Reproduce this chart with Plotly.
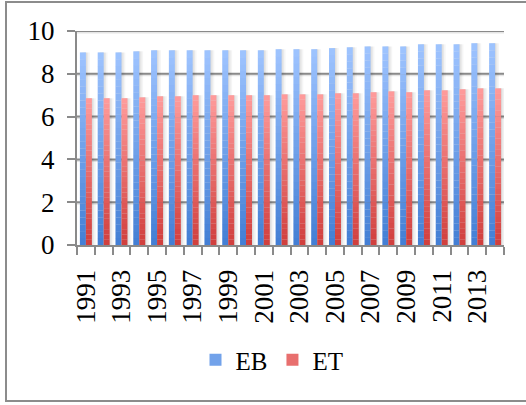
import plotly.graph_objects as go

# Yearly values for the two series
years = ["1991", "1992", "1993", "1994", "1995", "1996", "1997", "1998",
         "1999", "2000", "2001", "2002", "2003", "2004", "2005", "2006",
         "2007", "2008", "2009", "2010", "2011", "2012", "2013", "2014"]
eb = [9.0, 9.0, 9.0, 9.05, 9.1, 9.1, 9.1, 9.1, 9.1, 9.1, 9.1, 9.15,
      9.15, 9.15, 9.2, 9.24, 9.28, 9.28, 9.28, 9.38, 9.38, 9.38, 9.43, 9.43]
et = [6.86, 6.86, 6.86, 6.9, 6.95, 6.95, 7.0, 7.0, 7.0, 7.0, 7.0, 7.04,
      7.04, 7.04, 7.09, 7.09, 7.14, 7.18, 7.14, 7.23, 7.23, 7.28, 7.32, 7.32]
y_ticks = [0, 2, 4, 6, 8, 10]
tick_labels = [y if int(y) % 2 == 1 else "" for y in years]

W, H = 526, 405
L, R, T, B = 77, 504, 31, 245
FONT = "Liberation Serif, Times New Roman, serif"
GRAY = "#8a8a8a"

BAR_W = 0.337
N_SEG = 28

series = [
    ("EB", eb, -BAR_W, (0x42, 0x7E, 0xD4), (0x9F, 0xC4, 0xFF)),
    ("ET", et, 0.0, (0xD0, 0x3E, 0x3C), (0xFF, 0x9C, 0x9C)),
]


def mix(c0, c1, t):
    return "rgb(%d,%d,%d)" % tuple(round(a + (b - a) * t) for a, b in zip(c0, c1))


def px_x(p):
    return (p - L) / (R - L)


def px_y(p):
    return (B - p) / (B - T)


fig = go.Figure()

# soft drop shadow to the right of each bar
for name, vals, off, c_bot, c_top in series:
    for shift, alpha in ((0.05, 0.05), (0.13, 0.05), (0.22, 0.04)):
        fig.add_trace(go.Bar(
            x=years, y=vals, offset=off + shift, width=BAR_W,
            marker=dict(color="rgba(0,0,0,%g)" % alpha, line=dict(width=0)),
            showlegend=False, hoverinfo="skip",
        ))

# bars drawn as vertical gradients: dark at the base, light at the top
for name, vals, off, c_bot, c_top in series:
    for k in range(N_SEG):
        t = (k + 0.5) / N_SEG
        fig.add_trace(go.Bar(
            x=years,
            y=[v / N_SEG * 1.02 if k < N_SEG - 1 else v / N_SEG for v in vals],
            base=[v * k / N_SEG for v in vals],
            offset=off, width=BAR_W,
            marker=dict(color=mix(c_bot, c_top, t), line=dict(width=0)),
            name=name, legendgroup=name,
            showlegend=(k == N_SEG // 2),
            hoverinfo="skip",
        ))

fig.update_layout(
    width=W, height=H,
    margin=dict(l=L, r=W - R, t=T, b=H - B, pad=0),
    paper_bgcolor="white", plot_bgcolor="white",
    barmode="overlay",
    font=dict(family=FONT, size=27, color="black"),
    showlegend=True,
    legend=dict(
        orientation="h", x=(272 - L) / (R - L), xanchor="center",
        y=(B - 360) / (B - T), yanchor="middle",
        font=dict(size=25), itemwidth=30, traceorder="normal",
        bgcolor="rgba(0,0,0,0)",
    ),
    xaxis=dict(
        type="category", tickmode="array", tickvals=years, ticktext=tick_labels,
        tickson="boundaries", ticks="outside", ticklen=8, tickwidth=2,
        tickcolor=GRAY, tickangle=-90, ticklabelstandoff=12,
        showline=True, linecolor=GRAY, linewidth=2,
        showgrid=False, range=[-0.5, len(years) - 0.5],
        tickfont=dict(size=27),
    ),
    yaxis=dict(
        range=[0, 10], tickmode="array", tickvals=y_ticks,
        ticks="outside", ticklen=8, ticklabelstandoff=7,
        tickwidth=2, tickcolor=GRAY,
        showline=True, linecolor=GRAY, linewidth=2,
        showgrid=False, zeroline=False, tickfont=dict(size=27),
    ),
)

# horizontal gridlines at each y tick, with a faint shadow beneath
for v in y_ticks[1:]:
    fig.add_shape(type="line", xref="paper", yref="y",
                  x0=0, x1=1, y0=v - 0.07, y1=v - 0.07,
                  line=dict(color="rgba(0,0,0,0.10)", width=2), layer="below")
    fig.add_shape(type="line", xref="paper", yref="y",
                  x0=0, x1=1, y0=v, y1=v,
                  line=dict(color=GRAY, width=2), layer="below")

# chart frame
fig.add_shape(type="rect", xref="paper", yref="paper",
              x0=px_x(6), x1=px_x(540), y0=px_y(401), y1=px_y(2),
              line=dict(color="#8c8c8c", width=2), layer="above")

fig.write_html("out.html")
